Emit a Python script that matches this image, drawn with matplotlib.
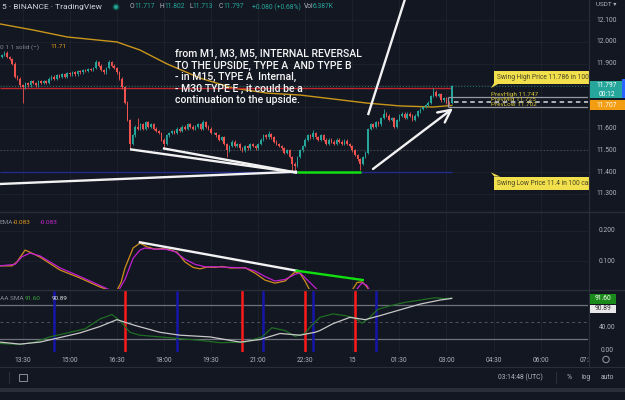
import numpy as np
import matplotlib
matplotlib.use('Agg')
import matplotlib.pyplot as plt
from matplotlib.patches import Rectangle, Polygon, Circle
from matplotlib.transforms import blended_transform_factory as blend

plt.rcParams['font.family'] = ['Roboto', 'DejaVu Sans']

# ---- data (5 min candles, index 0 = 12:50) ----
first_open = 11.93
closes = [
    11.94, 11.95, 11.93, 11.92, 11.90, 11.84, 11.83, 11.80, 11.79, 11.81,
    11.80, 11.82, 11.81, 11.80, 11.82, 11.81, 11.82, 11.81, 11.83, 11.84,
    11.83, 11.845, 11.84, 11.85, 11.84, 11.855, 11.85, 11.86, 11.85, 11.865,
    11.86, 11.87, 11.865, 11.875, 11.87, 11.88, 11.905, 11.89, 11.87, 11.86,
    11.88, 11.905, 11.89, 11.88, 11.86, 11.83, 11.79, 11.72, 11.64, 11.53,
    11.57, 11.61, 11.60, 11.62, 11.60, 11.63, 11.61, 11.62, 11.60, 11.59,
    11.58, 11.55, 11.53, 11.57, 11.58, 11.59, 11.58, 11.60, 11.59, 11.61,
    11.60, 11.62, 11.61, 11.60, 11.61, 11.62, 11.60, 11.63, 11.61, 11.60,
    11.58, 11.58, 11.57, 11.55, 11.56, 11.53, 11.50, 11.52, 11.54, 11.52,
    11.53, 11.51, 11.50, 11.52, 11.51, 11.53, 11.52, 11.51, 11.53, 11.55,
    11.57, 11.56, 11.575, 11.56, 11.54, 11.53, 11.52, 11.51, 11.49, 11.50,
    11.47, 11.44, 11.43, 11.47, 11.50, 11.52, 11.55, 11.57, 11.56, 11.58,
    11.56, 11.55, 11.57, 11.55, 11.53, 11.55, 11.54, 11.53, 11.55, 11.54,
    11.53, 11.545, 11.53, 11.52, 11.50, 11.48, 11.46, 11.44, 11.47, 11.49,
    11.60, 11.62, 11.61, 11.63, 11.62, 11.65, 11.67, 11.66, 11.64, 11.65,
    11.61, 11.64, 11.66, 11.67, 11.65, 11.67, 11.66, 11.64, 11.66, 11.68,
    11.69, 11.70, 11.71, 11.72, 11.75, 11.77, 11.75, 11.76, 11.73, 11.74,
    11.72, 11.717, 11.797,
]
spike_lows = {8: 11.72, 49: 11.505, 62: 11.51, 86: 11.47, 111: 11.40, 112: 11.40, 137: 11.41, 172: 11.713}
spike_highs = {36: 11.915, 41: 11.915, 52: 11.65, 77: 11.64, 102: 11.59, 119: 11.595,
               140: 11.605, 146: 11.69, 165: 11.786, 172: 11.802}

ma_idx = [-0.7, 12, 25, 44, 52.8, 63.2, 75.8, 88.4, 101.4, 114, 126.6, 139.6, 152.2, 164.8, 172]
ma_val = [12.082, 12.054, 12.022, 11.999, 11.962, 11.898, 11.833, 11.787, 11.764, 11.755,
          11.737, 11.718, 11.705, 11.700, 11.707]

macd_idx = [-0.7, 3.9, 5.8, 8.9, 10.8, 14.6, 22.3, 29.9, 37.6, 41.4, 44.0, 45.6, 47.1, 50.2, 52.8,
            55.5, 58.6, 61.6, 64.3, 67.0, 70.0, 73.1, 75.8, 78.5, 81.5, 84.2, 87.3, 93.0, 96.8,
            100.6, 104.4, 108.3, 112.1, 114.0, 115.9, 117.8, 125.0, 133.9, 135.8, 137.7, 139.2,
            140.8, 155.0, 172.0]
macd_val = [0.085, 0.085, 0.098, 0.137, 0.130, 0.114, 0.071, 0.045, 0.015, 0.004, 0.004, 0.030,
            0.078, 0.144, 0.160, 0.148, 0.140, 0.142, 0.138, 0.130, 0.098, 0.080, 0.075, 0.081,
            0.080, 0.083, 0.078, 0.079, 0.061, 0.038, 0.028, 0.035, 0.065, 0.060, 0.035, 0.004,
            -0.02, 0.004, 0.030, 0.032, 0.020, 0.0, -0.05, -0.083]
signal_idx = [-0.7, 5.1, 7.7, 10.8, 14.6, 22.3, 29.9, 37.6, 40.6, 44.4, 47.1, 50.2, 52.8, 54.7,
              58.6, 62.4, 66.2, 70.0, 73.9, 77.7, 81.5, 87.3, 93.0, 96.8, 100.6, 104.4, 108.3,
              112.1, 114.0, 117.8, 120.9, 130.0, 135.0, 137.7, 139.6, 141.5, 155.0, 172.0]
signal_val = [0.085, 0.090, 0.115, 0.127, 0.118, 0.078, 0.050, 0.020, 0.008, 0.0, 0.040, 0.110,
              0.137, 0.144, 0.140, 0.140, 0.132, 0.107, 0.090, 0.082, 0.082, 0.080, 0.078, 0.068,
              0.050, 0.035, 0.040, 0.057, 0.062, 0.030, 0.004, -0.02, 0.0, 0.029, 0.020, -0.01,
              -0.05, -0.083]

rsi_idx = [-0.7, 7.0, 12.7, 18.4, 26.1, 31.8, 37.5, 42.1, 45.2, 49.0, 52.8, 60.5, 68.1, 75.8,
           83.4, 93.0, 99.5, 103.3, 108.3, 112.1, 115.9, 117.8, 121.6, 126.6, 131.2, 135.0,
           137.7, 140.0, 143.8, 148.4, 154.1, 159.9, 165.6, 169.4, 172]
rsi_val = [12.6, 11, 15, 24, 32, 38, 55, 63, 52, 32, 27, 24, 21, 18, 14, 15, 24, 40, 35, 25, 30,
           41, 58, 64, 61, 57, 48, 55, 72, 78, 84, 88, 92, 90.5, 91.6]
sma_idx = [-0.7, 7.0, 14.6, 22.3, 29.9, 37.5, 44.0, 50.9, 60.5, 68.1, 79.6, 91.1, 98.7, 106.4,
           114.0, 119.7, 121.6, 126.6, 133.1, 138.9, 144.6, 152.2, 159.9, 167.5, 172]
sma_val = [15, 11.5, 15, 23, 31, 42, 54, 44, 32, 27, 24, 15, 19.5, 30, 27, 32, 35, 47, 58, 54,
           61, 71, 81, 88, 90.89]

red_signals = [47, 92, 116, 135]
blue_signals = [20, 67, 100, 119, 143]

time_labels = ['13:30', '15:00', '16:30', '18:00', '19:30', '21:00', '22:30', '15',
               '01:30', '03:00', '04:30', '06:00', '07:30']
price_ticks = [12.1, 12.0, 11.9, 11.6, 11.5, 11.4, 11.3]

swing_high = 11.786
swing_low = 11.40
prev_high, prev_mid, prev_low = 11.747, 11.725, 11.702
last_price, ma_last = 11.797, 11.707

# hand drawn lines: ((idx, price), (idx, price))
price_trends = [((49.0, 11.5055), (112.9, 11.398)),
                ((61.6, 11.51), (112.9, 11.398)),
                ((-0.7, 11.346), (112.9, 11.4025)),
                ((140.0, 11.663), (154.5, 12.21))]
arrow_line = ((141.9, 11.415), (172.5, 11.694))
green_level = (11.40, 112.9, 137.2)
macd_white = ((52.8, 0.1627), (112.7, 0.0690))
macd_green = ((112.7, 0.0690), (138.0, 0.0383))

note = ("from M1, M3, M5, INTERNAL REVERSAL\nTO THE UPSIDE, TYPE A  AND TYPE B\n"
        "- in M15, TYPE A  Internal,\n- M30 TYPE E , it could be a\ncontinuation to the upside.")

# ---- styling ----
BG = '#131722'
GRID = '#1c202b'
TXT = '#b2b5be'
UP, DN = '#26a69a', '#ef5350'
W, H = 625, 400

fig = plt.figure(figsize=(6.25, 4), dpi=100, facecolor=BG)


def rect(top, bottom, left=0, right=588):
    return [left / W, 1 - bottom / H, (right - left) / W, (bottom - top) / H]


ax = fig.add_axes(rect(0, 211))
axm = fig.add_axes(rect(213, 289))
axr = fig.add_axes(rect(290, 352))
xlim = (-0.68, 224.1)
tick_idx = [8 + 18 * k for k in range(len(time_labels))]
for a in (ax, axm, axr):
    a.set_facecolor(BG)
    a.set_xlim(*xlim)
    a.set_xticks([])
    a.set_yticks([])
    for s in a.spines.values():
        s.set_visible(False)
    for t in tick_idx:
        a.axvline(t, color=GRID, lw=0.8, zorder=0)

ax.set_ylim(11.2218, 12.192)
axm.set_ylim(0.0086, 0.2594)
axr.set_ylim(-2.2, 105.5)

# price pane
for p in np.arange(11.3, 12.15, 0.1):
    ax.axhline(p, color=GRID, lw=0.8, zorder=0)
ax.axhline(11.5, color='#4a4e5a', lw=0.8, ls=(0, (1, 2)), zorder=1)

n = len(closes)
idx = np.arange(n)
opens = np.array([first_open] + closes[:-1])
cl = np.array(closes)
cols = [UP if c >= o else DN for o, c in zip(opens, cl)]
highs = [spike_highs.get(i, max(opens[i], cl[i]) + 0.006) for i in idx]
lows = [spike_lows.get(i, min(opens[i], cl[i]) - 0.006) for i in idx]
ax.vlines(idx, lows, highs, colors=cols, lw=0.6, zorder=3)
body = np.maximum(np.abs(cl - opens), 0.002)
ax.bar(idx, body, bottom=np.minimum(opens, cl), width=0.62, color=cols, lw=0, zorder=3)

ax.plot(ma_idx, ma_val, color='#c9961a', lw=1.0, zorder=2)
ax.hlines(swing_high, xlim[0], 172, color='#c0262d', lw=1.0, zorder=2)
ax.hlines(swing_low, xlim[0], 172, color='#1f2a8a', lw=1.0, zorder=2)
ax.axhline(last_price, color=UP, lw=0.7, ls=(0, (1, 2)), alpha=0.7, zorder=2)
ax.hlines(green_level[0], green_level[1], green_level[2], color='#10e010', lw=1.8, zorder=4)
for (x0, y0), (x1, y1) in price_trends:
    ax.plot([x0, x1], [y0, y1], color='#f2f2f2', lw=1.7, solid_capstyle='butt', zorder=5)
ax.annotate('', xy=arrow_line[1], xytext=arrow_line[0],
            arrowprops=dict(arrowstyle='->,head_length=0.9,head_width=0.45', color='#f2f2f2',
                            lw=1.7, mutation_scale=10, shrinkA=0, shrinkB=0), zorder=5)

# previous range box
ax.hlines([prev_high, prev_low], 170.6, xlim[1], color='#9598a1', lw=0.9, zorder=4)
ax.vlines(170.6, prev_low, prev_high, color='#9598a1', lw=0.9, zorder=4)
ax.hlines(prev_mid, 173, xlim[1], color='#b8bbc3', lw=1.3, ls=(0, (2.5, 2)), zorder=4)
for lab, v in (('PrevHigh', prev_high), ('PrevMid', prev_mid), ('PrevLow', prev_low)):
    ax.text(187.0, v, f'{lab} {v:.3f}', color='#d8c43a', fontsize=4.6, va='bottom', ha='left',
            zorder=6)

# swing labels
ylab = dict(boxstyle='square,pad=0.45', fc='#f1df4b', ec='none')
ax.text(189.4, 11.836, f'Swing High Price {swing_high} in 100 candles', fontsize=4.8,
        color='#4a4526', va='center', bbox=ylab, zorder=7)
ax.add_patch(Polygon([(188.3, 11.812), (190.6, 11.812), (187.0, swing_high + 0.001)],
                     closed=True, fc='#f1df4b', ec='none', zorder=7))
ax.text(189.4, 11.350, f'Swing Low Price {swing_low:.1f} in 100 candles', fontsize=4.8,
        color='#4a4526', va='center', bbox=ylab, zorder=7)
ax.add_patch(Polygon([(188.3, 11.380), (190.6, 11.380), (187.0, swing_low - 0.001)],
                     closed=True, fc='#f1df4b', ec='none', zorder=7))

ax.text(66.2, 11.965, note, color='#f5f5f5', fontsize=7.6, va='top', ha='left',
        linespacing=1.17, fontweight='medium', zorder=8)

# MACD pane
for v in (0.1, 0.2):
    axm.axhline(v, color=GRID, lw=0.8, zorder=0)
axm.plot(macd_idx, macd_val, color='#d08e1c', lw=0.9, zorder=3)
axm.plot(signal_idx, signal_val, color='#c21fd0', lw=0.9, zorder=3)
axm.plot(*zip(*macd_white), color='#f2f2f2', lw=1.7, zorder=4)
axm.plot(*zip(*macd_green), color='#10e010', lw=1.7, zorder=4)

# RSI pane
axr.axhline(80, color='#6f727c', lw=0.9, zorder=1)
axr.axhline(20, color='#6f727c', lw=0.9, zorder=1)
axr.axhline(50, color='#50535e', lw=0.7, ls=(0, (3, 3)), zorder=1)
for t in red_signals:
    axr.axvline(t, color='#ff1a1a', lw=1.8, zorder=2)
for t in blue_signals:
    axr.axvline(t, color='#1515a8', lw=1.8, zorder=2)
axr.plot(rsi_idx, rsi_val, color='#1f6e22', lw=0.9, zorder=3)
axr.plot(sma_idx, sma_val, color='#c8c8c8', lw=0.9, zorder=3)

# ---- overlay: axis labels, header, toolbars ----
ov = fig.add_axes([0, 0, 1, 1], zorder=10)
ov.set_xlim(0, W)
ov.set_ylim(H, 0)
ov.axis('off')
ov.patch.set_alpha(0)

ov.add_patch(Rectangle((588.5, 0), 40, 367, fc=BG, ec='none', zorder=2))
ov.plot([588.5, 588.5], [0, 367], color='#2a2e39', lw=0.8, zorder=2)
for yy in (212, 289.5):
    ov.plot([0, 625], [yy, yy], color='#2a2e39', lw=1.0, zorder=2)
ov.plot([0, 625], [367, 367], color='#2a2e39', lw=0.8, zorder=2)
ov.add_patch(Rectangle((0, 388), 625, 3.5, fc='#2a2e39', ec='none', zorder=2))

tr_p = blend(ov.transData, ax.transData)
tr_m = blend(ov.transData, axm.transData)
tr_r = blend(ov.transData, axr.transData)
tr_t = blend(axr.transData, ov.transData)

for p in price_ticks:
    ov.text(607, p, f'{p:.3f}', transform=tr_p, color=TXT, fontsize=4.8, ha='center',
            va='center', zorder=3)
ov.add_patch(Rectangle((590, last_price - 0.0556), 36, 0.0781, transform=tr_p, fc=UP, ec='none',
                       zorder=3))
ov.text(607, last_price + 0.003, f'{last_price:.3f}', transform=tr_p, color='white',
        fontsize=4.8, ha='center', va='center', zorder=4)
ov.text(607, last_price - 0.038, '00:12', transform=tr_p, color='white', fontsize=4.8,
        ha='center', va='center', zorder=4)
ov.add_patch(Rectangle((590, ma_last - 0.023), 36, 0.046, transform=tr_p, fc='#f29d12',
                       ec='none', zorder=3))
ov.text(607, ma_last, f'{ma_last:.3f}', transform=tr_p, color='white', fontsize=4.8,
        ha='center', va='center', zorder=4)
ov.add_patch(Rectangle((622, 11.74), 4, 0.09, transform=tr_p, fc='#2962ff', ec='none', zorder=4))
ov.text(596, 5, 'USDT ▾', color=TXT, fontsize=4.6, va='center', zorder=3)

for v in (0.2, 0.1):
    ov.text(607, v, f'{v:.3f}', transform=tr_m, color=TXT, fontsize=4.8, ha='center',
            va='center', zorder=3)
for v in (40, 0):
    ov.text(607, v, f'{v:.2f}', transform=tr_r, color=TXT, fontsize=4.8, ha='center',
            va='center', zorder=3)
ov.add_patch(Rectangle((590, 81.5), 26, 17, transform=tr_r, fc='#1a8a1a', ec='none', zorder=3))
ov.text(603, 90.0, f'{rsi_val[-1]:.2f}', transform=tr_r, color='white', fontsize=4.8,
        ha='center', va='center', zorder=4)
ov.add_patch(Rectangle((590, 65.3), 26, 14.5, transform=tr_r, fc='#e8e8e8', ec='none', zorder=3))
ov.text(603, 72.5, f'{sma_val[-1]:.2f}', transform=tr_r, color='#333333', fontsize=4.8,
        ha='center', va='center', zorder=4)

for t, lab in zip(tick_idx, time_labels):
    ov.text(t, 360, lab, transform=tr_t, color=TXT, fontsize=4.8, ha='center', va='center',
            zorder=1)
ov.add_patch(Circle((606, 359.5), 3.2, fc='none', ec='#8a8d96', lw=0.8, zorder=3))

# header / legends
ov.text(2, 7, '5 · BINANCE · TradingView', color='#d1d4dc', fontsize=6, va='center', zorder=3)
ov.add_patch(Circle((116, 7), 3.4, fc='#0f4f46', ec='none', zorder=3))
ov.add_patch(Circle((116, 7), 1.9, fc='#26a69a', ec='none', zorder=3))
ohlc = [(130, 'O', TXT), (134, '11.717', UP), (160, 'H', TXT), (164.5, '11.802', UP),
        (189, 'L', TXT), (192.5, '11.713', UP), (219, 'C', TXT), (223, '11.797', UP),
        (252, '+0.080 (+0.68%)', UP), (304, 'Vol', TXT), (313, '6.387K', UP)]
for x, s, c in ohlc:
    ov.text(x, 7, s, color=c, fontsize=4.9, va='center', zorder=3)
ov.text(0, 47, '0 1 1 solid (−)', color='#868993', fontsize=4.6, va='center', zorder=3)
ov.text(50, 47, '11.71', color='#e5a21c', fontsize=4.6, va='center', zorder=3)
ov.text(0, 223, 'EMA', color='#868993', fontsize=4.6, va='center', zorder=3)
ov.text(13, 223, '-0.083', color='#e09a1e', fontsize=4.6, va='center', zorder=3)
ov.text(40, 223, '-0.083', color='#c726cf', fontsize=4.6, va='center', zorder=3)
ov.text(0, 299, 'AA SMA', color='#868993', fontsize=4.6, va='center', zorder=3)
ov.text(25, 299, f'{rsi_val[-1]:.2f}', color='#3ba33b', fontsize=4.6, va='center', zorder=3)
ov.text(52, 299, f'{sma_val[-1]:.2f}', color='#e0e0e0', fontsize=4.6, va='center', zorder=3)

# bottom toolbar
ov.plot([9, 9], [372, 383], color='#2a2e39', lw=0.8, zorder=3)
ov.add_patch(Rectangle((19, 373.5), 8, 7, fc='none', ec='#8a8d96', lw=0.7, zorder=3))
ov.text(520, 377.5, '03:14:48 (UTC)', color=TXT, fontsize=4.9, ha='center', va='center',
        zorder=3)
ov.plot([556, 556], [372, 383], color='#2a2e39', lw=0.8, zorder=3)
for x, s in ((569, '%'), (586, 'log'), (607, 'auto')):
    ov.text(x, 377.5, s, color=TXT, fontsize=4.9, ha='center', va='center', zorder=3)

fig.savefig('out.png', dpi=100, facecolor=BG)
